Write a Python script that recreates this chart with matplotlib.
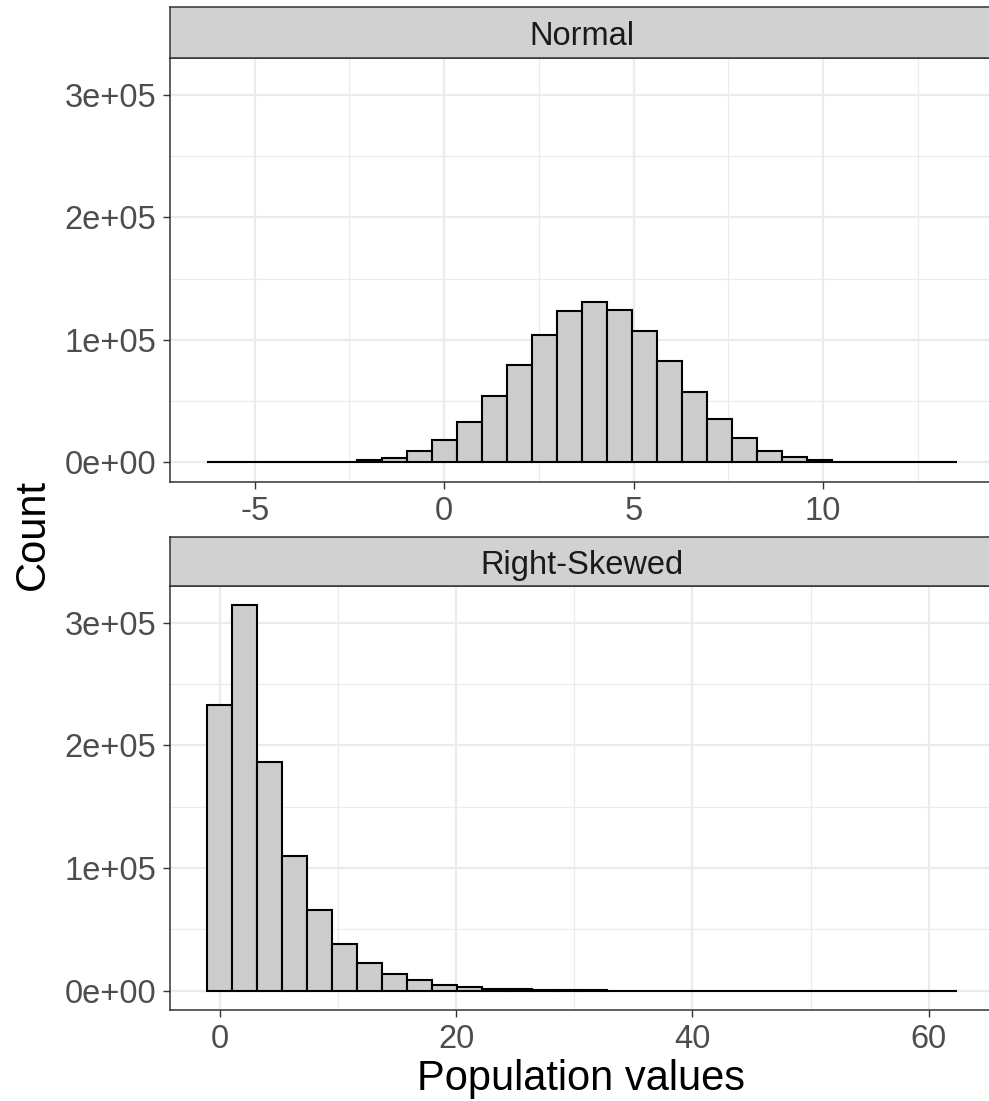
import numpy as np
import matplotlib
matplotlib.use("Agg")
import matplotlib.pyplot as plt
from matplotlib.ticker import FixedLocator, FixedFormatter

plt.rcParams['font.family'] = ['Liberation Sans', 'DejaVu Sans']

# ---------------- data ----------------
panel_titles = ["Normal", "Right-Skewed"]

# Normal panel: 30 bins spanning data range
normal_min, normal_max = -5.92, 13.20
normal_counts = [1, 3, 12, 55, 180, 560, 1600, 4000, 9300, 18200,
                 33000, 53900, 79200, 103800, 123600, 131300, 124700, 107000, 83000, 57200,
                 35700, 19900, 9500, 4600, 1900, 700, 200, 55, 12, 2]

# Right-skewed panel: 30 bins spanning data range
skew_min, skew_max = 0.0, 61.3
skew_counts = [232700, 314600, 186200, 109900, 65700, 38500, 22500, 13600, 8400, 4900,
               3000, 1800, 1050, 620, 370, 220, 130, 75, 45, 27,
               16, 9, 5, 3, 2, 1, 1, 0, 0, 1]

normal_xticks = [-5, 0, 5, 10]
normal_xminor = [-7.5, -2.5, 2.5, 7.5, 12.5]
skew_xticks = [0, 20, 40, 60]
skew_xminor = [10, 30, 50]
y_ticks = [0, 100000, 200000, 300000]
y_minor = [50000, 150000, 250000]
y_tick_labels = ["0e+00", "1e+05", "2e+05", "3e+05"]

x_label = "Population values"
y_label = "Count"

# ---------------- styling ----------------
W, H = 989, 1101
DPI = 100
fig = plt.figure(figsize=(W / DPI, H / DPI), dpi=DPI)
fig.patch.set_facecolor("white")

def fx(px):
    return px / W

def fy(px):
    return 1 - px / H

left_px, right_px = 170, 994
panels_px = [(57.7, 481.7), (585.7, 1010.0)]
strips_px = [(7.3, 57.7), (536.7, 585.7)]

border_col = "#333333"
grid_col = "#EBEBEB"
tick_col = "#4D4D4D"
tick_fs = 23.5
title_fs = 30

all_max = max(max(normal_counts), max(skew_counts))
ylo, yhi = -0.05 * all_max, 1.05 * all_max

datasets = [
    (normal_min, normal_max, normal_counts, normal_xticks, normal_xminor),
    (skew_min, skew_max, skew_counts, skew_xticks, skew_xminor),
]

for i, (dmin, dmax, counts, xt, xm) in enumerate(datasets):
    top, bot = panels_px[i]
    ax = fig.add_axes([fx(left_px), fy(bot), fx(right_px - left_px), (bot - top) / H])
    nb = len(counts)
    width = (dmax - dmin) / (nb - 1)
    edges_left = dmin - width / 2 + width * np.arange(nb)
    ax.bar(edges_left, counts, width=width, align="edge", color="#CCCCCC",
           edgecolor="black", linewidth=1.5, zorder=3)
    lo = dmin - width / 2
    hi = dmax + width / 2
    pad = 0.05 * (hi - lo)
    ax.set_xlim(lo - pad, hi + pad)
    ax.set_ylim(ylo, yhi)

    ax.xaxis.set_major_locator(FixedLocator(xt))
    ax.xaxis.set_minor_locator(FixedLocator(xm))
    ax.yaxis.set_major_locator(FixedLocator(y_ticks))
    ax.yaxis.set_minor_locator(FixedLocator(y_minor))
    ax.yaxis.set_major_formatter(FixedFormatter(y_tick_labels))
    ax.set_xticklabels([str(v) for v in xt])

    ax.grid(which="major", color=grid_col, linewidth=1.6, zorder=0)
    ax.grid(which="minor", color=grid_col, linewidth=0.9, zorder=0)
    ax.set_axisbelow(True)
    ax.tick_params(which="major", length=5, width=1.0, color=border_col,
                   labelsize=tick_fs, labelcolor=tick_col, pad=5)
    ax.tick_params(which="minor", length=0)
    for s in ax.spines.values():
        s.set_color(border_col)
        s.set_linewidth(1.1)

    # strip
    st, sb = strips_px[i]
    sax = fig.add_axes([fx(left_px), fy(sb), fx(right_px - left_px), (sb - st) / H])
    sax.set_facecolor("#D1D1D1")
    sax.set_xticks([])
    sax.set_yticks([])
    for s in sax.spines.values():
        s.set_color(border_col)
        s.set_linewidth(1.1)
    sax.text(fx(582 - left_px) / fx(right_px - left_px), 0.245, panel_titles[i],
             transform=sax.transAxes, ha="center", va="baseline",
             fontsize=tick_fs, color="#1A1A1A")

fig.text(fx(33), fy(535), y_label, rotation=90, ha="center", va="center",
         fontsize=title_fs, color="black")
fig.text(fx(581), fy(1090), x_label, ha="center", va="baseline",
         fontsize=title_fs, color="black")

fig.savefig("out.png", dpi=DPI, facecolor="white")
